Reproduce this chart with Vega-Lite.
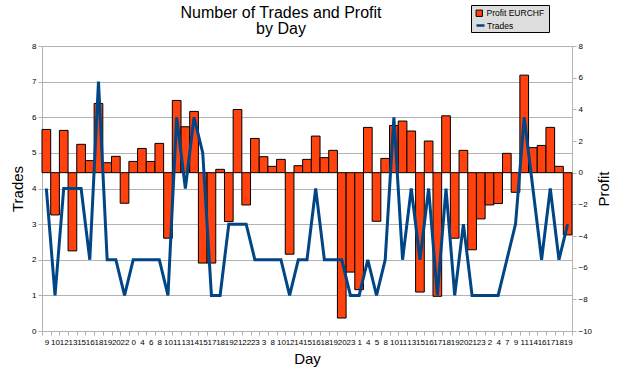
{
  "$schema": "https://vega.github.io/schema/vega-lite/v6.json",
  "width": 530,
  "height": 285,
  "autosize": "none",
  "padding": {"left": 42, "top": 46, "right": 53, "bottom": 40},
  "background": "white",
  "config": {
    "view": {"stroke": null},
    "font": "Liberation Sans"
  },
  "title": {
    "text": ["Number of Trades and Profit", "by Day"],
    "fontSize": 16,
    "fontWeight": "normal",
    "font": "Liberation Sans",
    "color": "black",
    "anchor": "middle",
    "frame": "group",
    "dx": -26,
    "dy": 40,
    "offset": 8,
    "lineHeight": 16
  },
  "data": {
    "values": [
      {"i": 0, "day": "9", "profit": 2.73, "trades": 4},
      {"i": 1, "day": "10", "profit": -2.67, "trades": 1},
      {"i": 2, "day": "12", "profit": 2.67, "trades": 4},
      {"i": 3, "day": "13", "profit": -4.94, "trades": 4},
      {"i": 4, "day": "15", "profit": 1.79, "trades": 4},
      {"i": 5, "day": "16", "profit": 0.76, "trades": 2},
      {"i": 6, "day": "18", "profit": 4.37, "trades": 7},
      {"i": 7, "day": "19", "profit": 0.63, "trades": 2},
      {"i": 8, "day": "20", "profit": 1.03, "trades": 2},
      {"i": 9, "day": "22", "profit": -1.93, "trades": 1},
      {"i": 10, "day": "0", "profit": 0.71, "trades": 2},
      {"i": 11, "day": "4", "profit": 1.53, "trades": 2},
      {"i": 12, "day": "6", "profit": 0.71, "trades": 2},
      {"i": 13, "day": "8", "profit": 1.85, "trades": 2},
      {"i": 14, "day": "10", "profit": -4.14, "trades": 1},
      {"i": 15, "day": "11", "profit": 4.56, "trades": 6},
      {"i": 16, "day": "13", "profit": 2.9, "trades": 4},
      {"i": 17, "day": "14", "profit": 3.87, "trades": 6},
      {"i": 18, "day": "15", "profit": -5.71, "trades": 5},
      {"i": 19, "day": "17", "profit": -5.71, "trades": 1},
      {"i": 20, "day": "18", "profit": 0.21, "trades": 1},
      {"i": 21, "day": "19", "profit": -3.09, "trades": 3},
      {"i": 22, "day": "21", "profit": 3.99, "trades": 3},
      {"i": 23, "day": "22", "profit": -2.04, "trades": 3},
      {"i": 24, "day": "23", "profit": 2.16, "trades": 2},
      {"i": 25, "day": "3", "profit": 1.01, "trades": 2},
      {"i": 26, "day": "8", "profit": 0.4, "trades": 2},
      {"i": 27, "day": "10", "profit": 0.84, "trades": 2},
      {"i": 28, "day": "12", "profit": -5.15, "trades": 1},
      {"i": 29, "day": "14", "profit": 0.44, "trades": 2},
      {"i": 30, "day": "15", "profit": 0.84, "trades": 2},
      {"i": 31, "day": "16", "profit": 2.31, "trades": 4},
      {"i": 32, "day": "18", "profit": 0.95, "trades": 2},
      {"i": 33, "day": "19", "profit": 1.41, "trades": 2},
      {"i": 34, "day": "20", "profit": -9.18, "trades": 2},
      {"i": 35, "day": "23", "profit": -6.28, "trades": 1},
      {"i": 36, "day": "1", "profit": -7.39, "trades": 1},
      {"i": 37, "day": "4", "profit": 2.86, "trades": 2},
      {"i": 38, "day": "5", "profit": -3.07, "trades": 1},
      {"i": 39, "day": "8", "profit": 0.9, "trades": 2},
      {"i": 40, "day": "10", "profit": 2.98, "trades": 6},
      {"i": 41, "day": "11", "profit": 3.26, "trades": 2},
      {"i": 42, "day": "13", "profit": 2.63, "trades": 4},
      {"i": 43, "day": "15", "profit": -7.54, "trades": 2},
      {"i": 44, "day": "16", "profit": 2.0, "trades": 4},
      {"i": 45, "day": "17", "profit": -7.81, "trades": 1},
      {"i": 46, "day": "18", "profit": 3.59, "trades": 4},
      {"i": 47, "day": "19", "profit": -4.14, "trades": 1},
      {"i": 48, "day": "20", "profit": 1.41, "trades": 3},
      {"i": 49, "day": "21", "profit": -4.87, "trades": 1},
      {"i": 50, "day": "23", "profit": -2.92, "trades": 1},
      {"i": 51, "day": "2", "profit": -2.04, "trades": 1},
      {"i": 52, "day": "4", "profit": -1.95, "trades": 1},
      {"i": 53, "day": "7", "profit": 1.22, "trades": 2},
      {"i": 54, "day": "9", "profit": -1.24, "trades": 3},
      {"i": 55, "day": "11", "profit": 6.16, "trades": 6},
      {"i": 56, "day": "14", "profit": 1.58, "trades": 4},
      {"i": 57, "day": "16", "profit": 1.72, "trades": 2},
      {"i": 58, "day": "17", "profit": 2.86, "trades": 4},
      {"i": 59, "day": "18", "profit": 0.4, "trades": 2},
      {"i": 60, "day": "19", "profit": -3.93, "trades": 3}
    ]
  },
  "encoding": {
    "x": {
      "field": "i",
      "type": "ordinal",
      "scale": {"paddingInner": 0, "paddingOuter": 0},
      "axis": {
        "title": "Day",
        "titleFontSize": 15,
        "titleFontWeight": "normal",
        "titleColor": "black",
        "titleFont": "Liberation Sans",
        "titlePadding": 5,
        "labelExpr": "['9','10','12','13','15','16','18','19','20','22','0','4','6','8','10','11','13','14','15','17','18','19','21','22','23','3','8','10','12','14','15','16','18','19','20','23','1','4','5','8','10','11','13','15','16','17','18','19','20','21','23','2','4','7','9','11','14','16','17','18','19'][datum.value]",
        "labelAngle": 0,
        "labelFontSize": 8,
        "labelColor": "black",
        "labelOverlap": false,
        "labelFlush": false,
        "labelBound": false,
        "labelPadding": 3,
        "tickBand": "extent",
        "tickSize": 4,
        "tickColor": "#b3b3b3",
        "domainColor": "#b3b3b3",
        "grid": false
      }
    }
  },
  "layer": [
    {
      "mark": {"type": "bar", "stroke": "black", "strokeWidth": 1},
      "encoding": {
        "y": {
          "field": "profit",
          "type": "quantitative",
          "scale": {"domain": [-10, 8], "nice": false},
          "axis": {
            "orient": "right",
            "title": "Profit",
            "titleAngle": -90,
            "titleFontSize": 15,
            "titleFontWeight": "normal",
            "titleColor": "black",
            "titlePadding": 20,
            "values": [-10, -8, -6, -4, -2, 0, 2, 4, 6, 8],
            "labelFontSize": 8,
            "labelColor": "black",
            "labelPadding": 2,
            "tickSize": 4,
            "tickColor": "#b3b3b3",
            "domainColor": "#b3b3b3",
            "grid": false
          }
        },
        "fill": {
          "datum": "Profit EURCHF",
          "scale": {"domain": ["Profit EURCHF"], "range": ["#ff420e"]},
          "legend": {
            "orient": "none",
            "legendX": 429,
            "legendY": -41,
            "title": " ",
            "titleOrient": "bottom",
            "titleFontSize": 9,
            "titlePadding": 1,
            "fillColor": "#dddddd",
            "strokeColor": "black",
            "padding": 4,
            "labelFontSize": 8.5,
            "labelColor": "black",
            "labelFont": "Liberation Sans",
            "symbolType": "square",
            "symbolSize": 40,
            "symbolStrokeColor": "black",
            "symbolStrokeWidth": 1,
            "symbolOpacity": 1,
            "labelOffset": 3
          }
        }
      }
    },
    {
      "mark": {"type": "line", "strokeWidth": 3},
      "encoding": {
        "y": {
          "field": "trades",
          "type": "quantitative",
          "scale": {"domain": [0, 8], "nice": false},
          "axis": {
            "orient": "left",
            "title": "Trades",
            "titleFontSize": 15,
            "titleFontWeight": "normal",
            "titleColor": "black",
            "titlePadding": 6,
            "values": [0, 1, 2, 3, 4, 5, 6, 7, 8],
            "labelFontSize": 8,
            "labelColor": "black",
            "labelPadding": 2,
            "tickSize": 4,
            "tickColor": "#b3b3b3",
            "domainColor": "#b3b3b3",
            "grid": true,
            "gridColor": "#b3b3b3",
            "gridOpacity": 1
          }
        },
        "stroke": {
          "datum": "Trades",
          "scale": {"domain": ["Trades"], "range": ["#004586"]},
          "legend": {
            "orient": "none",
            "legendX": 433,
            "legendY": -26,
            "title": null,
            "padding": 0,
            "labelFontSize": 8.5,
            "labelColor": "black",
            "labelFont": "Liberation Sans",
            "symbolType": "stroke",
            "symbolSize": 64,
            "symbolStrokeWidth": 2.5,
            "symbolOpacity": 1,
            "labelOffset": 1
          }
        }
      }
    }
  ],
  "resolve": {"scale": {"y": "independent"}}
}
